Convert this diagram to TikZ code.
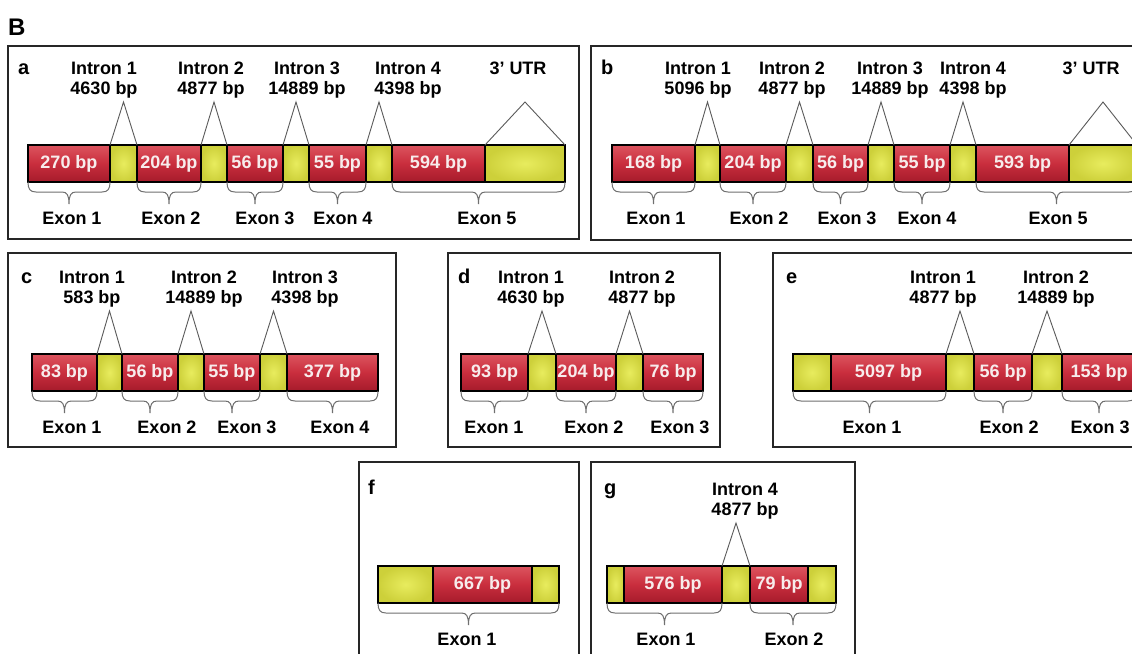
\documentclass[tikz,border=0pt]{standalone}
\usepackage{fontspec}
\setmainfont{Liberation Sans}
\usetikzlibrary{calc}
\definecolor{exred}{HTML}{C92E3D}
\definecolor{exredlight}{HTML}{DC545F}
\definecolor{exreddark}{HTML}{A51B2B}
\definecolor{utryellow}{HTML}{E8EC5E}
\definecolor{utrolive}{HTML}{CDD03A}
\definecolor{linegray}{HTML}{5A5A5A}
\definecolor{bracegray}{HTML}{707070}
\definecolor{bpwhite}{HTML}{F7ECEC}
\tikzset{
  panel/.style={draw=black!85, line width=1.2pt},
  seg/.style={draw=black, line width=1.1pt, anchor=north west, minimum height=37pt, inner sep=0pt, outer sep=0pt},
  coding/.style={seg, top color=exredlight, bottom color=exreddark, middle color=exred, text=bpwhite, font=\fontsize{18}{20}\selectfont\bfseries},
  utr/.style={seg, inner color=utryellow, outer color=utrolive},
  intron/.style={draw=linegray, line width=0.9pt},
  exbrace/.style={draw=bracegray, line width=1pt, to path={
    let \p1=(\tikztostart), \p2=(\tikztotarget), \p3=($(\p1)!.5!(\p2)$) in
    (\p1) .. controls (\x1,\y1-7pt) and (\x1+2pt,\y1-10pt) .. (\x1+8pt,\y1-10pt)
    -- (\x3-7pt,\y1-10pt) .. controls (\x3-2pt,\y1-10pt) and (\x3,\y1-13pt) .. (\x3,\y1-22pt)
    .. controls (\x3,\y1-13pt) and (\x3+2pt,\y1-10pt) .. (\x3+7pt,\y1-10pt)
    -- (\x2-8pt,\y1-10pt) .. controls (\x2-2pt,\y1-10pt) and (\x2,\y1-7pt) .. (\p2)}},
  toplab/.style={anchor=north, align=center, inner sep=0pt, font=\fontsize{18}{20}\selectfont\bfseries},
  exlab/.style={anchor=north, inner sep=0pt, font=\fontsize{18}{20}\selectfont\bfseries},
  letter/.style={anchor=base west, inner sep=0pt, font=\fontsize{20}{20}\selectfont\bfseries},
  figlab/.style={anchor=base west, inner sep=0pt, font=\fontsize{24}{24}\selectfont\bfseries}
}

\begin{document}
\begin{tikzpicture}[x=1pt,y=-1pt]
\clip (0,0) rectangle (1132,653);
\fill[white] (0,0) rectangle (1132,653);
\node[figlab] (figB) at (8,35) {B};

% panel frames
\draw[panel] (8,46) rectangle (579,239);
\draw[panel] (591,46) rectangle (1150,240);
\draw[panel] (8,253) rectangle (396,447);
\draw[panel] (448,253) rectangle (720,447);
\draw[panel] (773,253) rectangle (1150,447);
\draw[panel] (359,462) rectangle (579,670);
\draw[panel] (591,462) rectangle (855,670);

% a
\node[letter] (pa) at (18,74) {a};
\node[coding, minimum width=82pt] (a1) at (28,145) {270 bp};
\node[utr, minimum width=27pt] (a2) at (a1.north east) {};
\node[coding, minimum width=64pt] (a3) at (a2.north east) {204 bp};
\node[utr, minimum width=26pt] (a4) at (a3.north east) {};
\node[coding, minimum width=56pt] (a5) at (a4.north east) {56 bp};
\node[utr, minimum width=26pt] (a6) at (a5.north east) {};
\node[coding, minimum width=57pt] (a7) at (a6.north east) {55 bp};
\node[utr, minimum width=26pt] (a8) at (a7.north east) {};
\node[coding, minimum width=93pt] (a9) at (a8.north east) {594 bp};
\node[utr, minimum width=80pt] (a10) at (a9.north east) {};
\node[toplab] (ia1) at (104,62) {Intron 1\\4630 bp};
\node[toplab] (ia2) at (211,62) {Intron 2\\4877 bp};
\node[toplab] (ia3) at (307,62) {Intron 3\\14889 bp};
\node[toplab] (ia4) at (408,62) {Intron 4\\4398 bp};
\node[toplab] (ua) at (518,62) {3' UTR};
\node[exlab] (xa1) at (72,212) {Exon 1};
\node[exlab] (xa2) at (171,212) {Exon 2};
\node[exlab] (xa3) at (265,212) {Exon 3};
\node[exlab] (xa4) at (343,212) {Exon 4};
\node[exlab] (xa5) at (487,212) {Exon 5};

% b
\node[letter] (pb) at (601,74) {b};
\node[coding, minimum width=83pt] (b1) at (612,145) {168 bp};
\node[utr, minimum width=25pt] (b2) at (b1.north east) {};
\node[coding, minimum width=66pt] (b3) at (b2.north east) {204 bp};
\node[utr, minimum width=27pt] (b4) at (b3.north east) {};
\node[coding, minimum width=55pt] (b5) at (b4.north east) {56 bp};
\node[utr, minimum width=26pt] (b6) at (b5.north east) {};
\node[coding, minimum width=56pt] (b7) at (b6.north east) {55 bp};
\node[utr, minimum width=26pt] (b8) at (b7.north east) {};
\node[coding, minimum width=93pt] (b9) at (b8.north east) {593 bp};
\node[utr, minimum width=68pt] (b10) at (b9.north east) {};
\node[toplab] (ib1) at (698,62) {Intron 1\\5096 bp};
\node[toplab] (ib2) at (792,62) {Intron 2\\4877 bp};
\node[toplab] (ib3) at (890,62) {Intron 3\\14889 bp};
\node[toplab] (ib4) at (973,62) {Intron 4\\4398 bp};
\node[toplab] (ub) at (1091,62) {3' UTR};
\node[exlab] (xb1) at (656,212) {Exon 1};
\node[exlab] (xb2) at (759,212) {Exon 2};
\node[exlab] (xb3) at (847,212) {Exon 3};
\node[exlab] (xb4) at (927,212) {Exon 4};
\node[exlab] (xb5) at (1058,212) {Exon 5};

% c
\node[letter] (pc) at (21,283) {c};
\node[coding, minimum width=65pt] (c1) at (32,354) {83 bp};
\node[utr, minimum width=25pt] (c2) at (c1.north east) {};
\node[coding, minimum width=56pt] (c3) at (c2.north east) {56 bp};
\node[utr, minimum width=26pt] (c4) at (c3.north east) {};
\node[coding, minimum width=56pt] (c5) at (c4.north east) {55 bp};
\node[utr, minimum width=27pt] (c6) at (c5.north east) {};
\node[coding, minimum width=91pt] (c7) at (c6.north east) {377 bp};
\node[toplab] (ic1) at (92,271) {Intron 1\\583 bp};
\node[toplab] (ic2) at (204,271) {Intron 2\\14889 bp};
\node[toplab] (ic3) at (305,271) {Intron 3\\4398 bp};
\node[exlab] (xc1) at (72,421) {Exon 1};
\node[exlab] (xc2) at (167,421) {Exon 2};
\node[exlab] (xc3) at (247,421) {Exon 3};
\node[exlab] (xc4) at (340,421) {Exon 4};

% d
\node[letter] (pd) at (458,283) {d};
\node[coding, minimum width=67pt] (d1) at (461,354) {93 bp};
\node[utr, minimum width=28pt] (d2) at (d1.north east) {};
\node[coding, minimum width=60pt] (d3) at (d2.north east) {204 bp};
\node[utr, minimum width=27pt] (d4) at (d3.north east) {};
\node[coding, minimum width=60pt] (d5) at (d4.north east) {76 bp};
\node[toplab] (id1) at (531,271) {Intron 1\\4630 bp};
\node[toplab] (id2) at (642,271) {Intron 2\\4877 bp};
\node[exlab] (xd1) at (494,421) {Exon 1};
\node[exlab] (xd2) at (594,421) {Exon 2};
\node[exlab] (xd3) at (680,421) {Exon 3};

% e
\node[letter] (pe) at (786,283) {e};
\node[utr, minimum width=38pt] (e1) at (793,354) {};
\node[coding, minimum width=115pt] (e2) at (e1.north east) {5097 bp};
\node[utr, minimum width=28pt] (e3) at (e2.north east) {};
\node[coding, minimum width=58pt] (e4) at (e3.north east) {56 bp};
\node[utr, minimum width=30pt] (e5) at (e4.north east) {};
\node[coding, minimum width=74pt] (e6) at (e5.north east) {153 bp};
\node[toplab] (ie1) at (943,271) {Intron 1\\4877 bp};
\node[toplab] (ie2) at (1056,271) {Intron 2\\14889 bp};
\node[exlab] (xe1) at (872,421) {Exon 1};
\node[exlab] (xe2) at (1009,421) {Exon 2};
\node[exlab] (xe3) at (1100,421) {Exon 3};

% f
\node[letter] (pf) at (368,494) {f};
\node[utr, minimum width=55pt] (f1) at (378,566) {};
\node[coding, minimum width=99pt] (f2) at (f1.north east) {667 bp};
\node[utr, minimum width=27pt] (f3) at (f2.north east) {};
\node[exlab] (xf1) at (467,633) {Exon 1};

% g
\node[letter] (pg) at (604,494) {g};
\node[utr, minimum width=17pt] (g1) at (607,566) {};
\node[coding, minimum width=98pt] (g2) at (g1.north east) {576 bp};
\node[utr, minimum width=28pt] (g3) at (g2.north east) {};
\node[coding, minimum width=58pt] (g4) at (g3.north east) {79 bp};
\node[utr, minimum width=28pt] (g5) at (g4.north east) {};
\node[toplab] (ig1) at (745,483) {Intron 4\\4877 bp};
\node[exlab] (xg1) at (666,633) {Exon 1};
\node[exlab] (xg2) at (794,633) {Exon 2};

% intron and UTR wedges
\foreach \s in {a2,a4,a6,a8,a10,b2,b4,b6,b8,b10,c2,c4,c6,d2,d4,e3,e5,g3} {
  \coordinate (t\s) at ([yshift=43pt]\s.north);
  \draw[intron] (\s.north west) -- (t\s) -- (\s.north east);
}

% exon braces
\foreach \p/\q in {a1/a1,a3/a3,a5/a5,a7/a7,a9/a10,b1/b1,b3/b3,b5/b5,b7/b7,b9/b10,
  c1/c1,c3/c3,c5/c5,c7/c7,d1/d1,d3/d3,d5/d5,e1/e2,e4/e4,e6/e6,f1/f3,g1/g2,g4/g5}
  \draw[exbrace] (\p.south west) to (\q.south east);
\end{tikzpicture}
\end{document}
